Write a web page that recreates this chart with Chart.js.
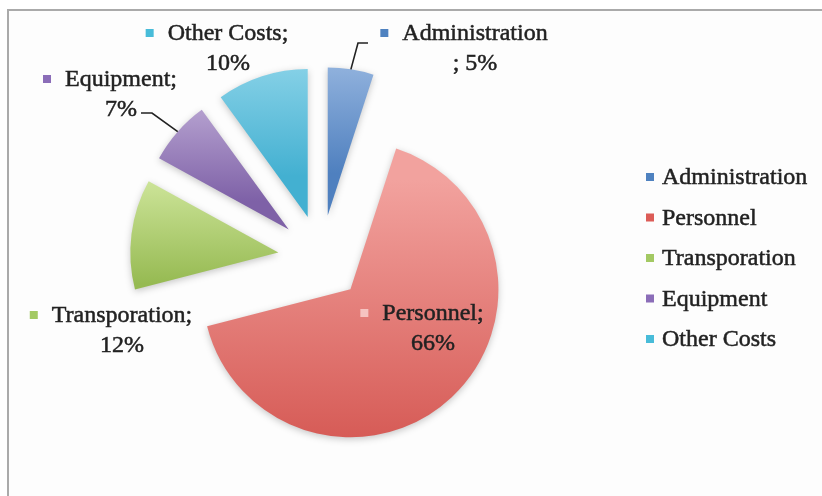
<!DOCTYPE html>
<html>
<head>
<meta charset="utf-8">
<title>Cost breakdown</title>
<script src="https://cdn.jsdelivr.net/npm/chart.js@4.4.1/dist/chart.umd.min.js"></script>
<style>
  html, body { margin: 0; padding: 0; background: #fff; }
  #wrap { position: relative; width: 822px; height: 496px; overflow: hidden; }
  #frame { position: absolute; left: 7px; top: 9px; width: 900px; height: 600px;
           border-top: 2px solid #aaa; border-left: 2px solid #aaa; background: #fdfdfd; }
  #costChart { position: absolute; left: 0; top: 0; }
</style>
</head>
<body>
<div id="wrap">
  <div id="frame"></div>
  <canvas id="costChart" width="822" height="496"></canvas>
</div>
<script>
// chart data
const categories = ["Administration", "Personnel", "Transporation", "Equipment", "Other Costs"];
const shares = [5, 66, 12, 7, 10];

// slice colours (gradient top -> bottom) and the small key squares
const topColors = ["#a9c4e8", "#f2a29e", "#cfe69c", "#c5b3db", "#9ddcee"];
const bottomColors = ["#4f80bf", "#d3534e", "#96ba52", "#7e61a7", "#43b0d1"];
const keyColors = ["#4f82c0", "#dc5c57", "#a3c963", "#8b6db8", "#48bcd9"];
const labelKeyColors = ["#4f82c0", "#f6c3c0", "#a3c963", "#8b6db8", "#48bcd9"];

// where the data labels sit (centre of first line) and their leader elbows
const labelSpots = [[475, 34], [433, 314], [122, 316], [121, 80], [228, 34]];
const leaderElbows = [[358, 43, 368], null, null, [152, 113, 141], null];

const RADIUS = 148;
const EXPLODE = 43;
const FONT = '24px "Liberation Serif"';
const TEXT_COLOR = "#222";

// Excel style explosion: push every slice out without making it bigger
const baseArcDraw = Chart.ArcElement.prototype.draw;
Chart.ArcElement.prototype.draw = function (ctx) {
    const mid = (this.startAngle + this.endAngle) / 2;
    ctx.save();
    ctx.translate(Math.cos(mid) * EXPLODE, Math.sin(mid) * EXPLODE);
    ctx.shadowColor = "rgba(0,0,0,0.22)";
    ctx.shadowBlur = 7;
    ctx.shadowOffsetY = 2;
    baseArcDraw.call(this, ctx);
    ctx.restore();
};

// vertical gradient over the bounding box of each slice
function sliceFill(context) {
    const i = context.dataIndex;
    const area = context.chart.chartArea;
    if (context.type !== "data" || !area) return bottomColors[i || 0];

    const total = shares.reduce((a, b) => a + b, 0);
    const before = shares.slice(0, i).reduce((a, b) => a + b, 0);
    const start = -Math.PI / 2 + before / total * Math.PI * 2;
    const end = start + shares[i] / total * Math.PI * 2;
    const mid = (start + end) / 2;
    const cy = (area.top + area.bottom) / 2 + Math.sin(mid) * EXPLODE;

    const ys = [cy, cy + Math.sin(start) * RADIUS, cy + Math.sin(end) * RADIUS];
    [-Math.PI / 2, Math.PI / 2, Math.PI * 1.5].forEach(a => {
        if (a > start && a < end) ys.push(cy + Math.sin(a) * RADIUS);
    });
    const g = context.chart.ctx.createLinearGradient(0, Math.min(...ys), 0, Math.max(...ys));
    g.addColorStop(0, topColors[i]);
    g.addColorStop(1, bottomColors[i]);
    return g;
}

// slightly heavier text, the original font is a dark Cambria
function heavyText(ctx, text, x, y) {
    ctx.fillText(text, x, y);
    ctx.strokeText(text, x, y);
}

// data labels with the little colour square and leader lines
const pieLabels = {
    id: "pieLabels",
    afterDatasetsDraw(chart) {
        const ctx = chart.ctx;
        const arcs = chart.getDatasetMeta(0).data;
        ctx.save();
        ctx.font = FONT;
        ctx.textBaseline = "middle";
        ctx.textAlign = "center";

        arcs.forEach((arc, i) => {
            const [x, y] = labelSpots[i];
            const pct = shares[i] + "%";
            // Excel wrapped the long name before the separator
            const lines = i === 0 ? [categories[i], "; " + pct] : [categories[i] + ";", pct];

            ctx.fillStyle = TEXT_COLOR;
            ctx.strokeStyle = TEXT_COLOR;
            ctx.lineWidth = 0.5;
            heavyText(ctx, lines[0], x, y);
            heavyText(ctx, lines[1], x, y + 30);

            const w = ctx.measureText(lines[0]).width;
            ctx.fillStyle = labelKeyColors[i];
            ctx.fillRect(x - w / 2 - 22, y - 5, 8, 8);

            const elbow = leaderElbows[i];
            if (elbow) {
                const mid = (arc.startAngle + arc.endAngle) / 2;
                const px = arc.x + Math.cos(mid) * (EXPLODE + arc.outerRadius);
                const py = arc.y + Math.sin(mid) * (EXPLODE + arc.outerRadius);
                ctx.strokeStyle = "#222";
                ctx.lineWidth = 1.6;
                ctx.beginPath();
                ctx.moveTo(px, py);
                ctx.lineTo(elbow[0], elbow[1]);
                ctx.lineTo(elbow[2], elbow[1]);
                ctx.stroke();
            }
        });
        ctx.restore();
    }
};

// legend on the right
const sideLegend = {
    id: "sideLegend",
    afterDraw(chart) {
        const ctx = chart.ctx;
        ctx.save();
        ctx.font = FONT;
        ctx.textBaseline = "middle";
        ctx.textAlign = "left";
        ctx.strokeStyle = TEXT_COLOR;
        ctx.lineWidth = 0.5;
        chart.data.labels.forEach((name, i) => {
            const y = 178 + i * 40.5;
            ctx.fillStyle = keyColors[i];
            ctx.fillRect(646, y - 5, 8, 8);
            ctx.fillStyle = TEXT_COLOR;
            heavyText(ctx, name, 662, y);
        });
        ctx.restore();
    }
};

new Chart(document.getElementById("costChart"), {
    type: "pie",
    data: {
        labels: categories,
        datasets: [{
            data: shares,
            backgroundColor: sliceFill,
            borderWidth: 0
        }]
    },
    options: {
        responsive: false,
        animation: false,
        events: [],
        radius: RADIUS,
        layout: {
            padding: { left: 0, right: 180, top: 20, bottom: 0 }
        },
        plugins: {
            legend: { display: false },
            tooltip: { enabled: false }
        }
    },
    plugins: [pieLabels, sideLegend]
});
</script>
</body>
</html>
